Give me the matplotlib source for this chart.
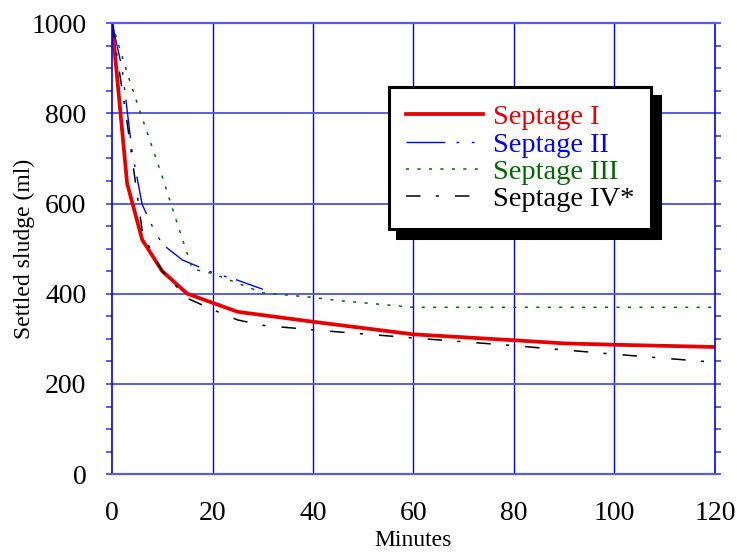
import matplotlib
matplotlib.use('Agg')
import matplotlib.pyplot as plt
from matplotlib.ticker import MultipleLocator

plt.rcParams['font.family'] = ['Liberation Serif', 'DejaVu Serif']

# data
t1 = [0, 3, 6, 10, 15, 25, 40, 60, 80, 90, 100, 120]
s1 = [1000, 645, 520, 450, 400, 360, 338, 310, 297, 290, 287, 282]

t2 = [0, 2, 4, 6, 8, 10, 14, 20, 25, 30]
s2 = [1000, 900, 715, 598, 550, 510, 475, 447, 430, 410]

t3 = [0, 3, 6, 10, 13, 16, 20, 30, 40, 45, 60, 120]
s3 = [1000, 890, 790, 660, 555, 455, 445, 402, 392, 385, 370, 370]

t4 = [0, 3, 6, 8, 10, 15, 20, 25, 30, 40, 60, 80, 100, 120]
s4 = [1000, 780, 540, 488, 450, 390, 365, 342, 330, 320, 302, 285, 266, 248]

names = ['Septage I', 'Septage II', 'Septage III', 'Septage IV*']
colors = ['#e60000', '#0000ff', '#006600', 'black']

blue = '#0000ee'
lblue = '#5a5ae6'

fig = plt.figure(figsize=(7.37, 5.52), dpi=100)
ax = fig.add_axes([0.152, 0.141, 0.818, 0.817])

ax.plot(t1, s1, color=colors[0], lw=2.7, label=names[0], solid_joinstyle='miter')
ax.plot(t2, s2, color=colors[1], lw=1.0, label=names[1],
        dashes=[28, 8, 2, 9, 2, 7])
ax.plot(t3, s3, color=colors[2], lw=1.1, label=names[2], dashes=[2, 5.5])
ax.plot(t4, s4, color=colors[3], lw=1.1, label=names[3],
        dashes=[9.5, 10, 2, 10.5])

ax.set_xlim(0, 120)
ax.set_ylim(0, 1000)
ax.xaxis.set_major_locator(MultipleLocator(20))
ax.yaxis.set_major_locator(MultipleLocator(200))
ax.yaxis.set_minor_locator(MultipleLocator(50))

for x in range(20, 120, 20):
    ax.axvline(x, color=blue, lw=1.0, zorder=0)
for y in range(200, 1000, 200):
    ax.axhline(y, color=lblue, lw=1.4, zorder=0)

ax.spines['left'].set_color(blue)
ax.spines['right'].set_color(blue)
ax.spines['left'].set_linewidth(1.2)
ax.spines['right'].set_linewidth(1.2)
ax.spines['top'].set_color(lblue)
ax.spines['bottom'].set_color(lblue)
ax.spines['top'].set_linewidth(1.6)
ax.spines['bottom'].set_linewidth(1.6)

ax.tick_params(axis='x', length=0, pad=19, labelsize=20)
ax.tick_params(axis='y', which='both', direction='out', left=True, right=True,
               color=lblue, width=1.4, length=4.3, labelsize=20, pad=14)

ax.set_xlabel('Minutes', fontsize=17, labelpad=3)
ax.set_ylabel('Settled sludge (ml)', fontsize=17)
ax.yaxis.set_label_coords(-0.128, 0.5)

leg = ax.legend(loc='upper left', bbox_to_anchor=(0.459, 0.858), borderaxespad=0,
                fontsize=20.5, handlelength=2.7, handletextpad=0.36,
                labelspacing=0.05, borderpad=0.6, fancybox=False,
                edgecolor='black', framealpha=1,
                shadow={'ox': 6, 'oy': -6, 'facecolor': 'black',
                        'edgecolor': 'black', 'alpha': 1})
leg.get_frame().set_linewidth(2.2)
for txt, c in zip(leg.get_texts(), colors):
    txt.set_color(c)

plt.savefig('out.png', dpi=100)
